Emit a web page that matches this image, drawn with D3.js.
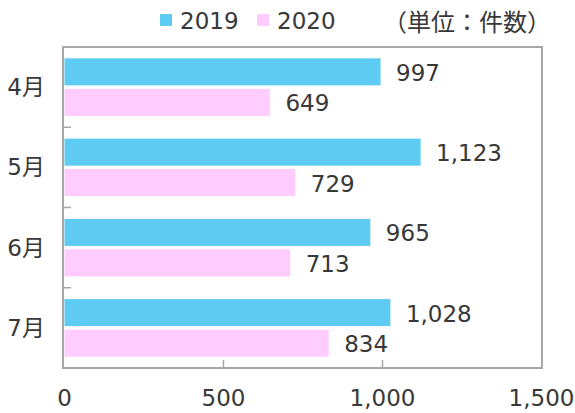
<!DOCTYPE html>
<html>
<head>
<meta charset="utf-8">
<script src="https://cdn.jsdelivr.net/npm/d3@7"></script>
<style>
  html, body { margin: 0; padding: 0; background: #fff; }
  svg { display: block; }
</style>
</head>
<body>
<div id="chart"></div>
<script>
// chart data
const months = ['4月', '5月', '6月', '7月'];
const seriesNames = ['2019', '2020'];
const values2019 = [997, 1123, 965, 1028];
const values2020 = [649, 729, 713, 834];
const xTicks = [0, 500, 1000, 1500];
const unitLabel = '（単位：件数）';

const colors = { '2019': '#5ecbf3', '2020': '#ffccff' };
const fontFamily = '"DejaVu Sans", "Noto Sans CJK JP", sans-serif';
const textColor = '#383838';
const fs = 23;

const W = 575, H = 413;
const plot = { left: 64, right: 542, top: 47, bottom: 368 };

const svg = d3.select('#chart').append('svg')
  .attr('width', W).attr('height', H)
  .attr('font-family', fontFamily);

const rows = months.map((m, i) => ({ month: m, '2019': values2019[i], '2020': values2020[i] }));

const x = d3.scaleLinear().domain([0, 1500]).range([plot.left, plot.right - 1]);
const y0 = d3.scaleBand().domain(months).range([plot.top, plot.bottom])
  .paddingInner(0.27).paddingOuter(0.135);
const y1 = d3.scaleBand().domain(seriesNames).range([0, y0.bandwidth()]).paddingInner(0.08);

// bars
const groups = svg.append('g').selectAll('g')
  .data(rows).join('g')
  .attr('transform', d => `translate(0,${y0(d.month)})`);

groups.selectAll('rect')
  .data(d => seriesNames.map(s => ({ s, v: d[s] })))
  .join('rect')
  .attr('x', x(0))
  .attr('y', d => y1(d.s))
  .attr('width', d => x(d.v) - x(0))
  .attr('height', y1.bandwidth())
  .attr('fill', d => colors[d.s])
  .attr('stroke', '#fff')
  .attr('stroke-width', 1);

groups.selectAll('text')
  .data(d => seriesNames.map(s => ({ s, v: d[s] })))
  .join('text')
  .attr('x', d => x(d.v) + 15)
  .attr('y', d => y1(d.s) + y1.bandwidth() / 2 + 1)
  .attr('dominant-baseline', 'central')
  .attr('font-size', fs)
  .attr('fill', textColor)
  .text(d => d3.format(',')(d.v));

// frame
svg.append('rect')
  .attr('x', plot.left - 1).attr('y', plot.top)
  .attr('width', plot.right - plot.left + 1).attr('height', plot.bottom - plot.top)
  .attr('fill', 'none').attr('stroke', '#a6a6a6').attr('stroke-width', 2);

// inner ticks on the category axis
const catBounds = months.slice(1).map(m => y0(m) - y0.step() * y0.paddingInner() / 2);
svg.append('g').selectAll('line')
  .data(catBounds).join('line')
  .attr('x1', plot.left - 1).attr('x2', plot.left + 7)
  .attr('y1', d => d).attr('y2', d => d)
  .attr('stroke', '#a6a6a6').attr('stroke-width', 1.5);

// x axis
const xAxis = svg.append('g')
  .attr('transform', `translate(0,${plot.bottom})`)
  .call(d3.axisBottom(x).tickValues(xTicks).tickFormat(d3.format(',')).tickSizeInner(0).tickSizeOuter(0).tickPadding(22));
xAxis.select('.domain').remove();
xAxis.selectAll('text').attr('font-size', fs).attr('fill', textColor).attr('font-family', fontFamily);
xAxis.selectAll('.tick')
  .filter(d => d > 0 && d < 1500)
  .append('line')
  .attr('y1', 0).attr('y2', -8)
  .attr('stroke', '#a6a6a6').attr('stroke-width', 1.5);

// y labels
svg.append('g').selectAll('text')
  .data(months).join('text')
  .attr('x', 45)
  .attr('y', d => y0(d) + y0.bandwidth() / 2)
  .attr('text-anchor', 'end')
  .attr('dominant-baseline', 'central')
  .attr('font-size', fs)
  .attr('fill', textColor)
  .text(d => d);

// legend
const legendX = [160, 257];
const legend = svg.append('g').selectAll('g')
  .data(seriesNames).join('g')
  .attr('transform', (d, i) => `translate(${legendX[i]},14)`);
legend.append('rect')
  .attr('width', 12).attr('height', 12)
  .attr('fill', d => colors[d]);
legend.append('text')
  .attr('x', 20).attr('y', 6.5)
  .attr('dominant-baseline', 'central')
  .attr('font-size', fs)
  .attr('fill', textColor)
  .text(d => d);

svg.append('text')
  .attr('x', 551).attr('y', 20)
  .attr('text-anchor', 'end')
  .attr('dominant-baseline', 'central')
  .attr('font-size', 24)
  .attr('fill', textColor)
  .attr('font-family', '"Noto Sans CJK JP", sans-serif')
  .text(unitLabel);
</script>
</body>
</html>
